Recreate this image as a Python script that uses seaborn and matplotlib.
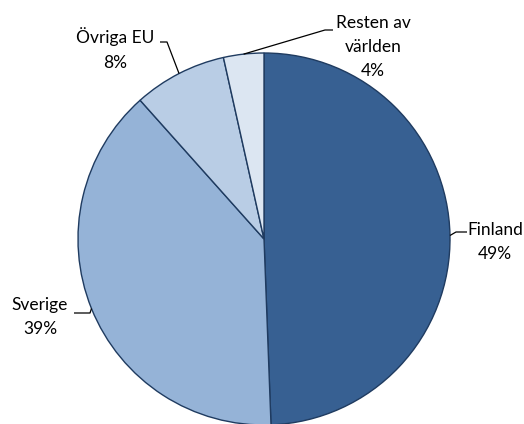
import numpy as np
import matplotlib
matplotlib.use("Agg")
import matplotlib.pyplot as plt
import seaborn as sns

# Data
regions = ["Finland", "Sverige", "Övriga EU", "Resten av\nvärlden"]
shares = [49.4, 39.0, 8.1, 3.5]
colors = ["#376092", "#95B3D7", "#B9CDE5", "#DCE6F2"]

sns.set_theme(style="white")
plt.rcParams["font.family"] = ["Lato", "DejaVu Sans"]

W, H = 524, 424
CX, CY, R = 264, 239, 186   # pie centre/radius in pixels


def px(x, y):
    # pixel -> data coords (pie radius 1)
    return (x - CX) / R, (CY - y) / R


fig = plt.figure(figsize=(W / 100, H / 100), dpi=100)
ax = fig.add_axes([0, 0, 1, 1])
wedges, _ = ax.pie(shares, colors=colors, startangle=90, counterclock=False,
                   radius=1, wedgeprops=dict(edgecolor="#1F3B60", linewidth=1.0))
ax.set_xlim(-CX / R, (W - CX) / R)
ax.set_ylim(-(H - CY) / R, CY / R)
ax.set_aspect("equal")
ax.axis("off")

# label layout: text centre, elbow point, line end (pixels)
layout = [
    ((495, 242), (456, 232), (467, 232)),
    ((40, 317), (90, 313), (74, 313)),
    ((115, 49), (167, 42), (160, 42)),
    ((373, 47), (325, 30), (333, 30)),
]

for w, name, val, (tpos, elbow, lend) in zip(wedges, regions, shares, layout):
    mid = np.deg2rad((w.theta1 + w.theta2) / 2)
    p0 = (np.cos(mid), np.sin(mid))
    e = px(*elbow)
    l = px(*lend)
    ax.plot([p0[0], e[0], l[0]], [p0[1], e[1], l[1]], color="black", lw=0.9,
            solid_capstyle="butt")
    tx, ty = px(*tpos)
    ax.text(tx, ty, f"{name}\n{round(val):.0f}%", ha="center", va="center",
            fontsize=12.5, linespacing=1.65, color="black")

fig.savefig("out.png", dpi=100)
